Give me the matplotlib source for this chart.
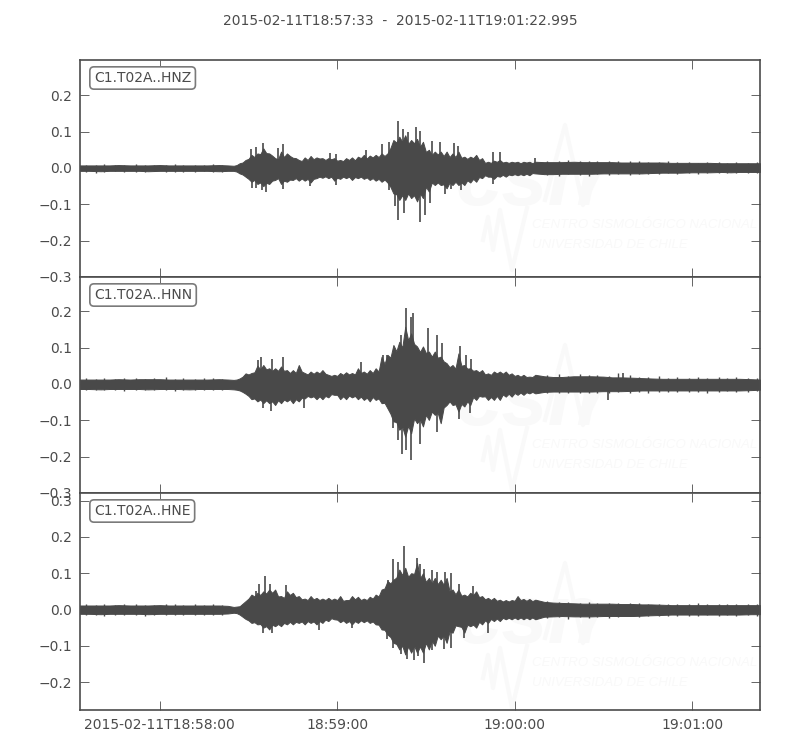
import datetime as dt
import numpy as np
import matplotlib
matplotlib.use("Agg")
import matplotlib.pyplot as plt

title = "2015-02-11T18:57:33  -  2015-02-11T19:01:22.995"
start = dt.datetime(2015, 2, 11, 18, 57, 33)
end_seconds = 229.995
channels = ["C1.T02A..HNZ", "C1.T02A..HNN", "C1.T02A..HNE"]
tick_times = [dt.datetime(2015, 2, 11, 18, 58), dt.datetime(2015, 2, 11, 18, 59),
              dt.datetime(2015, 2, 11, 19, 0), dt.datetime(2015, 2, 11, 19, 1)]
tick_labels = ["2015-02-11T18:58:00", "18:59:00", "19:00:00", "19:01:00"]

# seconds after start at which the envelope crests were read
knots = [0, 10, 20, 30, 40, 50] + list(range(52, 156, 2)) + [160, 170, 180, 190, 200, 210, 220, 230]
# seconds after start at which the troughs between crests were read
between = [3, 7, 13, 17, 23, 27, 33, 37, 43, 47] + list(range(53, 155, 2)) + \
          [157, 163, 167, 173, 177, 183, 187, 193, 197, 203, 207, 213, 217, 223, 227]
# seconds after start of the small peaks in the quiet parts
rough_t = [2, 5.5, 8, 12, 15, 19, 22, 25, 29, 32, 35, 39, 42, 45, 48,
           158, 162, 165, 169, 172, 175, 179, 182, 186, 189, 192, 196, 199, 202, 206, 209, 212, 216, 219, 222, 226, 229]

hnz_up = [.007, .007, .007, .007, .007, .007,
          .006, .013, .022, .036, .040, .054, .040, .027, .045, .040, .028, .022, .029, .033,
          .029, .027, .027, .027, .022, .027, .029, .031, .036, .034, .036, .040, .040,
          .077, .086, .090, .077, .080, .072, .050, .045, .045, .045, .040, .045, .031, .031,
          .036, .027, .017, .020, .022, .017, .017, .017, .017, .017, .017,
          .016, .016, .016, .015, .014, .014, .013, .013]
hnz_lo = [-.008, -.008, -.008, -.008, -.008, -.008,
          -.008, -.015, -.024, -.038, -.044, -.050, -.044, -.033, -.044, -.038, -.033, -.035, -.035, -.040,
          -.028, -.027, -.028, -.035, -.030, -.028, -.033, -.028, -.030, -.033, -.035, -.038, -.040,
          -.070, -.088, -.088, -.083, -.092, -.083, -.065, -.047, -.047, -.056, -.047, -.047, -.047, -.040,
          -.038, -.028, -.024, -.030, -.024, -.024, -.020, -.020, -.020, -.020, -.015,
          -.017, -.016, -.015, -.015, -.013, -.012, -.012, -.011]
hnz_up_mid = [.007, .007, .008, .007, .007, .008, .007, .007, .007, .008,
              .008, .015, .025, .030, .038, .041, .034, .024, .030, .033,
              .027, .019, .022, .024, .026, .022, .024, .020, .019, .022,
              .021, .027, .026, .029, .030, .033, .055, .070, .072, .066,
              .068, .058, .044, .036, .037, .033, .030, .030, .028, .025,
              .027, .022, .014, .014, .017, .015, .014, .015, .013, .015,
              .013,
              .016, .016, .017, .016, .016, .015, .015, .015, .015, .014, .014, .014, .013, .013, .013]
hnz_lo_mid = [-.008, -.009, -.008, -.008, -.009, -.008, -.008, -.008, -.008, -.009,
              -.010, -.018, -.030, -.033, -.040, -.041, -.035, -.028, -.035, -.032,
              -.028, -.029, -.030, -.030, -.024, -.023, -.024, -.027, -.024, -.024,
              -.025, -.024, -.026, -.028, -.030, -.032, -.052, -.072, -.075, -.070,
              -.075, -.070, -.052, -.040, -.040, -.045, -.040, -.038, -.040, -.034,
              -.030, -.025, -.020, -.024, -.022, -.019, -.018, -.017, -.017, -.016,
              -.014,
              -.017, -.016, -.016, -.016, -.015, -.015, -.015, -.014, -.013, -.013, -.012, -.012, -.011, -.011, -.011]
hnz_rough_up = [.009, .008, .010, .008, .009, .011, .008, .009, .008, .010, .009, .008, .009, .010, .008,
                .020, .019, .021, .018, .020, .019, .018, .020, .018, .019,
                .017, .016, .018, .016, .017, .015, .017, .016, .015, .016, .015, .016]
hnz_rough_lo = [-.010, -.014, -.010, -.009, -.012, -.010, -.011, -.009, -.011, -.010, -.011, -.010, -.009, -.011, -.010,
                -.019, -.021, -.018, -.020, -.022, -.018, -.020, -.017, -.019, -.018,
                -.017, -.018, -.015, -.016, -.015, -.016, -.014, -.015, -.014, -.015, -.013, -.014]
hnz_spike_t = [57.7, 59.4, 62, 66.9, 68.6, 84.6, 86.5, 96.6, 102, 104.6, 107.6, 109.1, 111.1, 113.8, 114.9, 119.2,
               121.8, 126.6, 127.7, 139.8, 141.9, 153.8,
               58.1, 59.5, 61.5, 62.9, 68.8, 77.8, 86.6, 104.5, 106.6, 107.6, 109.5, 114.9, 116.6, 118.3, 123.6,
               125.6, 128.8, 139.8]
hnz_spike_a = [.051, .059, .070, .054, .066, .040, .038, .050, .065, .072, .130, .107, .100, .112, .103, .075,
               .072, .068, .060, .045, .045, .027,
               -.056, -.056, -.060, -.065, -.059, -.050, -.047, -.062, -.106, -.143, -.125, -.149, -.129, -.097, -.072,
               -.059, -.060, -.044]

hnn_up = [.012, .012, .013, .012, .012, .012,
          .011, .015, .029, .030, .050, .052, .043, .043, .048, .038, .038, .052, .030, .034,
          .034, .038, .025, .025, .030, .032, .030, .043, .034, .038, .043, .075, .080,
          .107, .116, .157, .139, .103, .103, .089, .089, .075, .057, .052, .084, .052, .043,
          .038, .038, .029, .034, .034, .034, .029, .025, .025, .020, .025,
          .019, .021, .018, .016, .014, .014, .014, .012]
hnn_lo = [-.014, -.014, -.014, -.014, -.014, -.014,
          -.015, -.018, -.027, -.042, -.048, -.053, -.053, -.058, -.053, -.048, -.053, -.048, -.040, -.037,
          -.042, -.042, -.037, -.030, -.042, -.042, -.037, -.042, -.044, -.048, -.044, -.053, -.067,
          -.103, -.126, -.145, -.136, -.108, -.117, -.099, -.085, -.108, -.058, -.058, -.076, -.062, -.058,
          -.044, -.035, -.044, -.044, -.044, -.035, -.035, -.030, -.030, -.026, -.026,
          -.021, -.021, -.020, -.018, -.018, -.018, -.018, -.016]
hnn_up_mid = [.012, .012, .013, .012, .013, .013, .012, .012, .012, .013,
              .012, .020, .026, .032, .040, .040, .036, .036, .036, .030,
              .030, .034, .026, .028, .029, .028, .022, .022, .025, .026,
              .026, .030, .028, .030, .034, .055, .072, .090, .100, .120,
              .110, .088, .085, .075, .072, .062, .046, .042, .050, .042,
              .036, .032, .026, .025, .029, .028, .025, .022, .020, .019,
              .019,
              .021, .019, .021, .021, .020, .018, .017, .015, .014, .014, .014, .014, .014, .014, .013]
hnn_lo_mid = [-.014, -.015, -.014, -.014, -.015, -.014, -.014, -.015, -.014, -.014,
              -.016, -.022, -.033, -.040, -.043, -.045, -.048, -.045, -.043, -.042,
              -.042, -.038, -.033, -.034, -.034, -.033, -.028, -.030, -.034, -.032,
              -.033, -.035, -.038, -.036, -.040, -.052, -.082, -.105, -.118, -.115,
              -.095, -.098, -.085, -.076, -.080, -.065, -.048, -.056, -.055, -.048,
              -.036, -.033, -.034, -.036, -.033, -.029, -.027, -.025, -.024, -.023,
              -.022,
              -.022, -.021, -.021, -.021, -.020, -.020, -.019, -.018, -.018, -.018, -.018, -.018, -.018, -.018, -.017]
hnn_rough_up = [.015, .014, .016, .014, .017, .015, .014, .016, .018, .014, .015, .014, .016, .015, .014,
                .025, .026, .023, .027, .024, .025, .023, .029, .024, .020,
                .019, .021, .017, .018, .016, .019, .016, .018, .017, .019, .016, .015]
hnn_rough_lo = [-.016, -.018, -.017, -.016, -.019, -.017, -.016, -.018, -.016, -.019, -.017, -.016, -.018, -.017, -.016,
                -.026, -.024, -.026, -.024, -.025, -.024, -.026, -.023, -.025, -.022,
                -.024, -.021, -.022, -.023, -.021, -.022, -.024, -.021, -.020, -.022, -.021, -.020]
hnn_spike_t = [60.2, 61.1, 64.8, 68.6, 95.2, 102.4, 103.7, 108.7, 110.1, 111.8, 112.7, 117.6, 120.7, 122.6, 128.5,
               130.5, 132.1, 183.5,
               62, 64.6, 75.8, 104.4, 105.9, 107.6, 108.8, 110.1, 112.1, 115, 120.9, 128.1, 131.8, 178.7]
hnn_spike_a = [.066, .073, .068, .073, .059, .080, .080, .135, .208, .185, .194, .153, .135, .112, .103,
               .080, .068, .029,
               -.067, -.074, -.065, -.070, -.122, -.154, -.193, -.181, -.209, -.166, -.131, -.097, -.079, -.044]

hne_up = [.011, .011, .011, .011, .011, .010,
          .007, .009, .023, .041, .046, .050, .055, .055, .037, .050, .046, .037, .030, .037,
          .032, .030, .032, .030, .037, .026, .037, .035, .030, .035, .041, .055, .078,
          .082, .110, .115, .100, .128, .100, .087, .087, .082, .087, .055, .055, .041, .046,
          .050, .037, .032, .032, .027, .026, .026, .037, .029, .029, .027,
          .019, .016, .016, .014, .012, .012, .012, .012]
hne_lo = [-.012, -.012, -.012, -.012, -.012, -.011,
          -.009, -.014, -.026, -.037, -.041, -.050, -.055, -.046, -.046, -.041, -.041, -.037, -.041, -.037,
          -.041, -.037, -.032, -.027, -.035, -.037, -.041, -.037, -.035, -.037, -.041, -.055, -.069,
          -.092, -.110, -.124, -.119, -.119, -.119, -.110, -.100, -.082, -.092, -.064, -.046, -.064, -.046,
          -.050, -.041, -.037, -.032, -.032, -.027, -.027, -.027, -.027, -.027, -.027,
          -.019, -.019, -.018, -.017, -.014, -.014, -.014, -.013]
hne_up_mid = [.011, .011, .012, .011, .011, .012, .011, .011, .011, .011,
              .008, .016, .030, .036, .040, .044, .046, .036, .032, .040,
              .034, .028, .026, .028, .026, .026, .026, .026, .024, .026,
              .028, .026, .026, .030, .036, .058, .072, .088, .095, .090,
              .098, .086, .076, .072, .070, .068, .050, .042, .038, .036,
              .040, .034, .028, .026, .024, .022, .022, .024, .026, .024,
              .023,
              .021, .018, .017, .016, .016, .015, .015, .014, .013, .012, .012, .012, .012, .012, .012]
hne_lo_mid = [-.012, -.013, -.012, -.012, -.013, -.012, -.012, -.012, -.012, -.012,
              -.010, -.020, -.030, -.035, -.040, -.046, -.042, -.040, -.037, -.034,
              -.034, -.033, -.032, -.033, -.032, -.028, -.024, -.028, -.030, -.032,
              -.032, -.030, -.030, -.033, -.042, -.056, -.076, -.095, -.100, -.102,
              -.100, -.102, -.092, -.086, -.072, -.072, -.060, -.044, -.048, -.042,
              -.042, -.034, -.030, -.026, -.025, -.023, -.023, -.022, -.022, -.022,
              -.022,
              -.020, -.018, -.019, -.019, -.018, -.018, -.018, -.016, -.015, -.014, -.014, -.014, -.014, -.014, -.013]
hne_rough_up = [.014, .012, .015, .013, .014, .016, .013, .012, .014, .015, .013, .014, .013, .015, .012,
                .023, .021, .020, .019, .020, .018, .019, .017, .018, .017,
                .016, .015, .016, .014, .015, .017, .014, .015, .016, .014, .015, .016]
hne_rough_lo = [-.015, -.014, -.017, -.014, -.016, -.015, -.017, -.014, -.015, -.014, -.016, -.015, -.014, -.016, -.015,
                -.023, -.022, -.027, -.021, -.024, -.021, -.023, -.020, -.019, -.020,
                -.018, -.017, -.019, -.017, -.018, -.017, -.016, -.018, -.016, -.017, -.016, -.017]
hne_spike_t = [59.5, 60.7, 62.5, 64.1, 69.7, 104.3, 106, 107.5, 109.6, 114, 114.9, 116.4, 119, 120.8, 123.5, 125.5,
               128.1, 133,
               62, 64.8, 81, 91.9, 103.7, 106, 108.6, 110.7, 112.8, 114.2, 116.4, 119, 123.2, 125.5, 130, 138]
hne_spike_a = [.052, .069, .092, .069, .067, .082, .140, .131, .176, .142, .126, .112, .108, .103, .103, .101,
               .070, .066,
               -.066, -.066, -.057, -.052, -.080, -.105, -.124, -.136, -.139, -.128, -.147, -.113, -.108, -.105, -.078, -.064]

ups = [hnz_up, hnn_up, hne_up]
los = [hnz_lo, hnn_lo, hne_lo]
up_mids = [hnz_up_mid, hnn_up_mid, hne_up_mid]
lo_mids = [hnz_lo_mid, hnn_lo_mid, hne_lo_mid]
rough_ups = [hnz_rough_up, hnn_rough_up, hne_rough_up]
rough_los = [hnz_rough_lo, hnn_rough_lo, hne_rough_lo]
spike_ts = [hnz_spike_t, hnn_spike_t, hne_spike_t]
spike_as = [hnz_spike_a, hnn_spike_a, hne_spike_a]
y_limits = [(-0.3, 0.297), (-0.3, 0.294), (-0.277, 0.321)]
y_ticks = [[-.3, -.2, -.1, 0, .1, .2], [-.3, -.2, -.1, 0, .1, .2], [-.2, -.1, 0, .1, .2, .3]]

INK = "#4b4b4b"
MARK = "#494949"
WM = "#f9f9f9"
WM_FONT = ["Liberation Sans Narrow", "Liberation Sans", "DejaVu Sans"]
W, H = 800, 750
plt.rcParams["font.family"] = "DejaVu Sans"


def when(seconds):
    return [start + dt.timedelta(seconds=float(s)) for s in seconds]


def fx(x):
    return x / W


def fy(y):
    return 1 - y / H


fig = plt.figure(figsize=(8, 7.5), dpi=100, facecolor="white")
fig.text(0.5, fy(21), title, ha="center", va="center", fontsize=10, color=INK)

edges = [(60, 277), (277, 493), (493, 710)]
shifts = [0, 220, 438]
for i, (top, bottom) in enumerate(edges):
    ax = fig.add_axes([fx(80), fy(bottom), fx(680), (bottom - top) / H])
    ax.set_xlim(start, start + dt.timedelta(seconds=end_seconds))
    ax.set_ylim(*y_limits[i])

    # faint background watermark
    d = shifts[i]
    ax.text(fx(455), fy(205 + d), "csn", transform=fig.transFigure, fontsize=60, fontweight="bold",
            style="italic", color=WM, zorder=0, family=WM_FONT)
    ax.text(fx(532), fy(228 + d), "CENTRO SISMOLÓGICO NACIONAL", transform=fig.transFigure, fontsize=9.5,
            style="italic", color=WM, zorder=0, family=WM_FONT)
    ax.text(fx(532), fy(248 + d), "UNIVERSIDAD DE CHILE", transform=fig.transFigure, fontsize=9.5,
            style="italic", color=WM, zorder=0, family=WM_FONT)
    ax.plot([fx(v) for v in (545, 565, 583, 600)], [fy(v + d) for v in (200, 125, 205, 170)],
            transform=fig.transFigure, color=WM, lw=3, zorder=0)
    ax.plot([fx(v) for v in (483, 488, 493, 500, 512, 527)], [fy(v + d) for v in (240, 217, 250, 210, 270, 208)],
            transform=fig.transFigure, color=WM, lw=3, zorder=0)

    t_all = np.array(knots + between, dtype=float)
    order = np.argsort(t_all)
    up_all = np.array(ups[i] + up_mids[i])[order]
    lo_all = np.array(los[i] + lo_mids[i])[order]
    ax.fill_between(when(t_all[order]), lo_all, up_all, color=MARK, lw=0.7, zorder=2)
    ax.vlines(when(spike_ts[i]), 0, spike_as[i], color=MARK, lw=1.2, zorder=2)
    ax.vlines(when(rough_t), rough_los[i], rough_ups[i], color=MARK, lw=1.0, zorder=2)

    ax.set_xticks(tick_times)
    if i == 2:
        ax.set_xticklabels(tick_labels)
    else:
        ax.set_xticklabels([])
    ax.set_yticks(y_ticks[i])
    ax.set_yticklabels([f"{v:.1f}".replace("-", "\u2212") for v in y_ticks[i]])
    ax.tick_params(axis="both", direction="in", length=6.5, width=0.6, color=INK, labelcolor=INK,
                   labelsize=10, top=True, right=True, pad=6)
    for s in ax.spines.values():
        s.set_color(INK)
        s.set_linewidth(1.2)
    ax.text(fx(94), fy(top + 18), channels[i], transform=fig.transFigure, fontsize=10, color=INK, va="center",
            ha="left", zorder=6,
            bbox=dict(boxstyle="round,pad=0.3", fc="white", ec="#7a7a7a", lw=1.2))

fig.savefig("out.png", dpi=100)
